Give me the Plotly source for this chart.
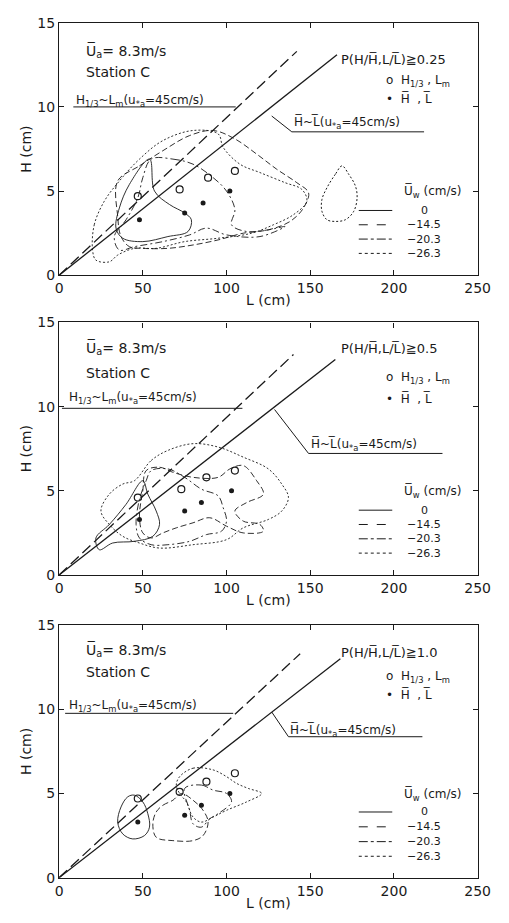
import plotly.graph_objects as go

W, HGT = 509, 923
FONT = "DejaVu Sans"
INK = "#1a1a1a"

X_TICKS = [0, 50, 100, 150, 200, 250]
Y_TICKS = [0, 5, 10, 15]
THRESHOLDS = ["0.25", "0.5", "1.0"]
UW_LABELS = ["0", "−14.5", "−20.3", "−26.3"]
UW_DASH = ["solid", "6px,3px", "7px,3px,2px,3px", "2px,2px"]

# wave-point markers (L cm, H cm) per panel
P1_LM = [47, 72, 89, 105];  P1_H13 = [4.7, 5.1, 5.8, 6.2]
P1_LB = [48, 75, 86, 102];  P1_HB = [3.3, 3.7, 4.3, 5.0]
P2_LM = [47, 73, 88, 105];  P2_H13 = [4.6, 5.1, 5.8, 6.2]
P2_LB = [48, 75, 85, 103];  P2_HB = [3.3, 3.8, 4.3, 5.0]
P3_LM = [47, 72, 88, 105];  P3_H13 = [4.7, 5.1, 5.7, 6.2]
P3_LB = [47, 75, 85, 102];  P3_HB = [3.3, 3.7, 4.3, 5.0]

# H1/3~Lm and Hbar~Lbar relations (u*a = 45 cm/s)
REL_L13 = [[0, 142], [0, 140], [0, 144]]; REL_H13 = [[0, 13.3], [0, 13.1], [0, 13.3]]
REL_LB = [[0, 166], [0, 165], [0, 168]];  REL_HB = [[0, 13.1], [0, 12.8], [0, 13.0]]

# probability contours  (L, H) for Uw = 0, -14.5, -20.3, -26.3
P1_C = [
    [(54, 6.9), (57, 5.0), (66, 4.2), (75, 3.7), (79, 3.3), (77, 2.6), (65, 2.3), (50, 2.0),
     (38, 2.2), (34, 2.8), (36, 4.0), (42, 5.4), (54, 6.9)],
    [(35, 5.6), (48, 6.5), (62, 7.4), (78, 8.3), (92, 8.6), (105, 8.1), (118, 7.2), (130, 6.3),
     (142, 5.5), (149, 4.9), (146, 4.0), (138, 3.2), (125, 2.7), (110, 2.5), (95, 2.1), (80, 1.8),
     (65, 1.6), (50, 1.6), (42, 1.7), (37, 2.3), (35, 3.5), (35, 5.6)],
    [(55, 6.9), (68, 6.9), (80, 6.6), (92, 5.8), (100, 5.0), (105, 3.9), (103, 3.0), (112, 2.6),
     (125, 2.7), (135, 2.9), (120, 2.3), (100, 2.4), (88, 2.8), (78, 2.4), (62, 2.0), (45, 1.7),
     (36, 1.5), (33, 2.3), (40, 3.3), (47, 4.6), (50, 5.8), (55, 6.9)],
    [(20, 1.5), (21, 3.0), (27, 4.4), (36, 5.6), (48, 6.9), (62, 8.0), (80, 8.6), (95, 8.4),
     (98, 7.6), (108, 6.6), (120, 6.1), (135, 5.5), (145, 5.1), (148, 4.4), (140, 3.6), (128, 3.0),
     (115, 2.5), (95, 2.2), (75, 2.0), (58, 1.6), (45, 1.6), (35, 1.2), (30, 0.8), (22, 0.9), (20, 1.5)],
]
P1_TEAR = [(169, 6.5), (165, 6.0), (160, 5.2), (157, 4.5), (157, 3.8), (160, 3.3), (165, 3.2),
           (171, 3.3), (176, 3.8), (178, 4.6), (177, 5.3), (173, 6.0), (169, 6.5)]

P2_C = [
    [(50, 5.6), (53, 4.8), (58, 3.8), (60, 3.0), (56, 2.3), (45, 2.0), (32, 1.9), (24, 1.5),
     (22, 2.2), (30, 3.0), (40, 4.2), (50, 5.6)],
    [(52, 6.2), (60, 6.4), (68, 6.1), (80, 5.8), (95, 5.8), (102, 6.3), (110, 6.5), (118, 5.6),
     (122, 4.8), (112, 4.3), (105, 3.8), (110, 3.2), (120, 3.0), (122, 2.6), (110, 2.5), (100, 2.9),
     (90, 3.4), (80, 3.1), (70, 2.8), (62, 2.5), (55, 2.2), (50, 2.5), (48, 3.5), (50, 5.0), (52, 6.2)],
    [(55, 6.2), (65, 6.3), (75, 5.8), (85, 5.1), (95, 4.7), (98, 4.0), (100, 3.2), (97, 2.6),
     (88, 2.4), (78, 2.0), (65, 1.8), (55, 1.8), (48, 2.2), (46, 3.0), (48, 4.5), (52, 5.6), (55, 6.2)],
    [(45, 5.6), (55, 6.8), (65, 7.4), (80, 7.8), (95, 7.6), (110, 7.0), (125, 6.3), (133, 5.4),
     (137, 4.6), (133, 3.8), (125, 3.3), (110, 2.8), (100, 2.1), (80, 1.8), (60, 1.6), (48, 1.9),
     (38, 2.3), (30, 3.0), (25, 3.8), (30, 4.8), (38, 5.4), (45, 5.6)],
]

P3_C = [
    [(45, 4.9), (50, 4.5), (53, 3.8), (54, 3.0), (51, 2.5), (44, 2.3), (38, 2.6), (35, 3.3),
     (37, 4.2), (41, 4.8), (45, 4.9)],
    [(58, 3.9), (62, 4.3), (68, 4.6), (73, 5.0), (80, 4.6), (86, 4.0), (89, 3.3), (86, 2.5),
     (80, 2.2), (68, 2.2), (58, 2.4), (56, 3.2), (58, 3.9)],
    [(75, 5.3), (85, 5.5), (92, 5.2), (100, 5.0), (103, 4.5), (95, 3.8), (90, 3.5), (85, 3.0),
     (80, 3.2), (78, 4.0), (75, 5.3)],
    [(72, 6.0), (80, 6.5), (92, 6.4), (100, 6.0), (106, 5.6), (113, 5.3), (121, 5.0), (112, 4.5),
     (100, 4.0), (92, 3.6), (85, 3.3), (80, 3.6), (76, 4.5), (72, 5.0), (70, 5.5), (72, 6.0)],
]

# plot-area pixel boxes (top, bottom) for each panel
X_PIX = (57, 490)
Y_PIX = [(15, 272), (320, 577), (628, 885)]

fig = go.Figure()
panels = [
    (P1_LM, P1_H13, P1_LB, P1_HB, P1_C),
    (P2_LM, P2_H13, P2_LB, P2_HB, P2_C),
    (P3_LM, P3_H13, P3_LB, P3_HB, P3_C),
]

# text/leader layout per panel (data coords)
TXT = [
    dict(ua=13.35, st=12.08, p=12.8, o=11.56, f=10.5, h13y=10.33, h13x=9, h13line=(8.5, 105.5, 10.0),
         hbt=9.07, lead=((127, 9.46), (139, 8.52), (218, 8.52)), leg=(4.95, [3.85, 3.0, 2.15, 1.3])),
    dict(ua=13.5, st=12.0, p=13.45, o=11.7, f=10.5, h13y=10.5, h13x=5, h13line=(1.7, 109.5, 9.9),
         hbt=7.75, lead=((128.7, 9.83), (149, 7.22), (229, 7.22)), leg=(4.95, [3.85, 3.0, 2.15, 1.3])),
    dict(ua=13.5, st=12.2, p=13.4, o=11.9, f=10.9, h13y=10.2, h13x=5, h13line=(3.6, 104, 9.76),
         hbt=8.77, lead=((127, 9.84), (137, 8.37), (217, 8.37)), leg=(4.95, [3.9, 3.02, 2.14, 1.27])),
]

annotations = []
shapes = []
for i, (lm, h13, lb, hb, contours) in enumerate(panels):
    n = "" if i == 0 else str(i + 1)
    xa, ya = "x" + n, "y" + n
    # contours
    for k, c in enumerate(contours):
        fig.add_trace(go.Scatter(x=[p[0] for p in c], y=[p[1] for p in c], mode="lines",
                                 line=dict(color=INK, width=0.9, dash=UW_DASH[k], shape="spline", smoothing=1.0),
                                 xaxis=xa, yaxis=ya, showlegend=False, hoverinfo="skip"))
    if i == 0:
        fig.add_trace(go.Scatter(x=[p[0] for p in P1_TEAR], y=[p[1] for p in P1_TEAR], mode="lines",
                                 line=dict(color=INK, width=1.0, dash="2px,2px", shape="spline"),
                                 xaxis=xa, yaxis=ya, showlegend=False, hoverinfo="skip"))
    # relations
    fig.add_trace(go.Scatter(x=REL_L13[i], y=REL_H13[i], mode="lines",
                             line=dict(color=INK, width=1.3, dash="11px,5px"),
                             xaxis=xa, yaxis=ya, showlegend=False))
    fig.add_trace(go.Scatter(x=REL_LB[i], y=REL_HB[i], mode="lines",
                             line=dict(color=INK, width=1.3),
                             xaxis=xa, yaxis=ya, showlegend=False))
    # markers
    fig.add_trace(go.Scatter(x=lm, y=h13, mode="markers",
                             marker=dict(symbol="circle-open", size=7, color=INK, line=dict(width=1.2)),
                             xaxis=xa, yaxis=ya, showlegend=False))
    fig.add_trace(go.Scatter(x=lb, y=hb, mode="markers",
                             marker=dict(symbol="circle", size=5, color=INK),
                             xaxis=xa, yaxis=ya, showlegend=False))

    t = TXT[i]
    def ann(x, y, text, size=13, xanchor="left"):
        annotations.append(dict(x=x, y=y, xref=xa, yref=ya, text=text, showarrow=False,
                                xanchor=xanchor, yanchor="middle",
                                font=dict(family=FONT, size=size, color=INK)))
    ann(15, t["ua"], "U\u0305<sub>a</sub>= 8.3m/s", 14)
    ann(15, t["st"], "Station C", 14)
    ann(167, t["p"], "P(H/H\u0305,L/L\u0305)\u2267" + THRESHOLDS[i], 13)
    ann(194, t["o"], "o  H<sub>1/3</sub> , L<sub>m</sub>", 12)
    ann(194, t["f"], "\u2022  H\u0305  , L\u0305", 12)
    ann(t["h13x"], t["h13y"], "H<sub>1/3</sub>~L<sub>m</sub>(u<sub>*a</sub>=45cm/s)", 12)
    ann(t["lead"][1][0], t["hbt"], "H\u0305~L\u0305(u<sub>*a</sub>=45cm/s)", 12)
    ann(223, t["leg"][0], "U\u0305<sub>w</sub> (cm/s)", 12, "center")
    for k, yy in enumerate(t["leg"][1]):
        ann(218, yy, UW_LABELS[k], 11, "center")
        shapes.append(dict(type="line", xref=xa, yref=ya, x0=179, x1=199, y0=yy, y1=yy,
                           line=dict(color=INK, width=1, dash=["solid", "dash", "dashdot", "dot"][k])))
    x0, x1, yy = t["h13line"]
    shapes.append(dict(type="line", xref=xa, yref=ya, x0=x0, x1=x1, y0=yy, y1=yy,
                       line=dict(color=INK, width=1)))
    (a0, b0), (a1, b1), (a2, b2) = t["lead"]
    shapes.append(dict(type="path", xref=xa, yref=ya,
                       path=f"M {a0},{b0} L {a1},{b1} L {a2},{b2}",
                       line=dict(color=INK, width=1)))

layout = dict(width=W, height=HGT, margin=dict(l=0, r=0, t=0, b=0),
              paper_bgcolor="white", plot_bgcolor="white",
              annotations=annotations, shapes=shapes, showlegend=False)
for i in range(3):
    n = "" if i == 0 else str(i + 1)
    top, bot = Y_PIX[i]
    ax_common = dict(showgrid=False, zeroline=False, showline=True, mirror="ticks",
                     linecolor=INK, linewidth=1.2, ticks="inside", ticklen=5, tickcolor=INK,
                     tickfont=dict(family=FONT, size=14, color=INK))
    layout["xaxis" + n] = dict(ax_common, range=[0, 250], tickvals=X_TICKS,
                               domain=[X_PIX[0] / W, X_PIX[1] / W], anchor="y" + n,
                               title=dict(text="L (cm)", standoff=0,
                                          font=dict(family=FONT, size=14, color=INK)))
    layout["yaxis" + n] = dict(ax_common, range=[0, 15], tickvals=Y_TICKS,
                               domain=[1 - bot / HGT, 1 - top / HGT], anchor="x" + n,
                               title=dict(text="H (cm)", standoff=2,
                                          font=dict(family=FONT, size=14, color=INK)))
fig.update_layout(**layout)
fig.write_html("out.html")
